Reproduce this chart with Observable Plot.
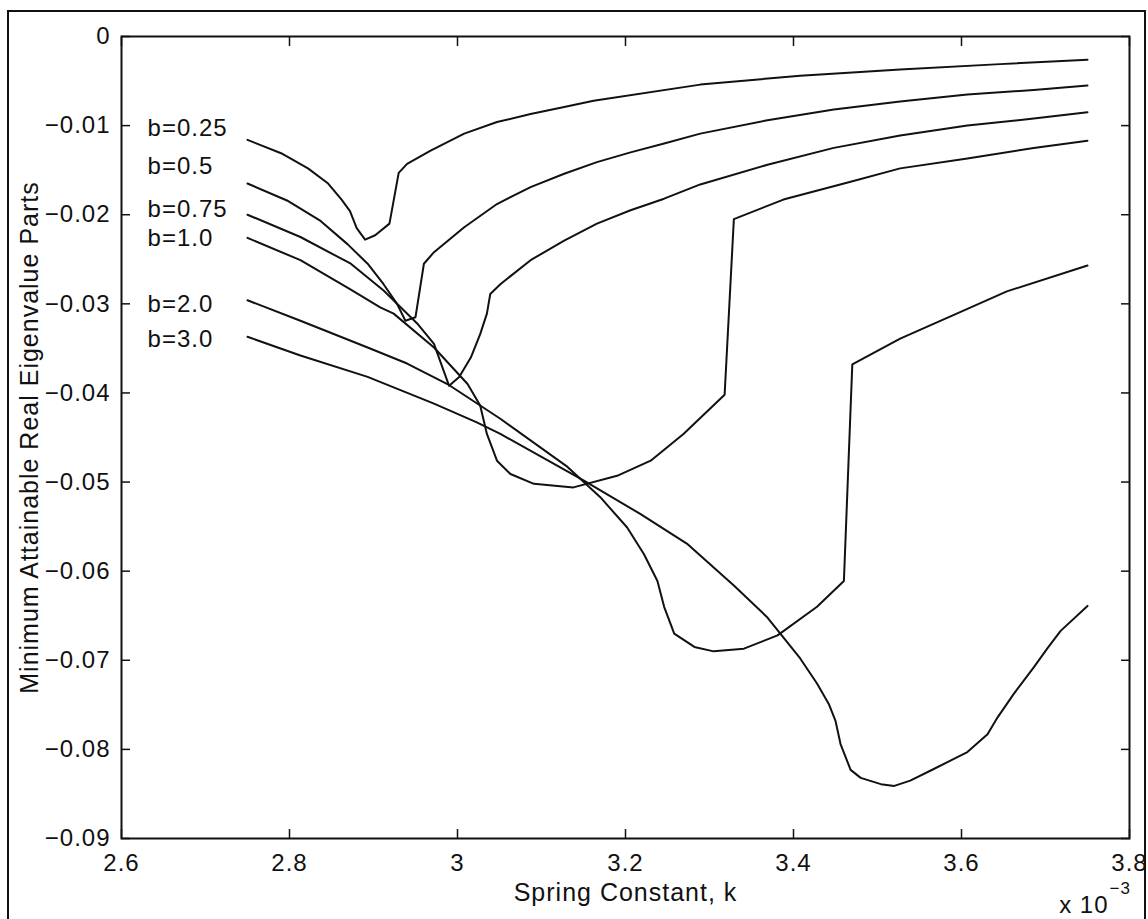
<!DOCTYPE html>
<html>
<head>
<meta charset="utf-8">
<script src="https://cdn.jsdelivr.net/npm/d3@7"></script>
<script src="https://cdn.jsdelivr.net/npm/@observablehq/plot@0.6"></script>
<style>
  html, body { margin: 0; padding: 0; background: #fff; }
  #wrap { position: relative; width: 1148px; height: 919px; overflow: hidden; background: #fff; }
  #chart { position: absolute; left: 0; top: 0; }
  #border { position: absolute; left: 7px; top: 10px; width: 1139px; height: 940px; border: 2px solid #111; box-sizing: border-box; pointer-events: none; }
</style>
</head>
<body>
<div id="wrap"><div id="chart"></div><div id="border"></div></div>
<script>
// ---- Data (k in units of 1e-3, v = minimum attainable real eigenvalue part) ----
const seriesNames = ["b=0.25", "b=0.5", "b=0.75", "b=1.0", "b=2.0", "b=3.0"];

const k_b025 = [2.750, 2.790, 2.822, 2.846, 2.862, 2.872, 2.880, 2.890, 2.902, 2.919, 2.930, 2.940, 2.968, 3.008, 3.047, 3.087, 3.127, 3.162, 3.289, 3.408, 3.527, 3.646, 3.750];
const v_b025 = [-0.0116, -0.0131, -0.0148, -0.0165, -0.0183, -0.0196, -0.0215, -0.0228, -0.0223, -0.0210, -0.0153, -0.0143, -0.0128, -0.0109, -0.0096, -0.0087, -0.0079, -0.0072, -0.0054, -0.0044, -0.0037, -0.0031, -0.0026];

const k_b05 = [2.750, 2.797, 2.837, 2.869, 2.893, 2.912, 2.928, 2.938, 2.950, 2.960, 2.972, 3.008, 3.047, 3.087, 3.127, 3.166, 3.206, 3.246, 3.289, 3.369, 3.448, 3.527, 3.607, 3.686, 3.750];
const v_b05 = [-0.0165, -0.0184, -0.0207, -0.0233, -0.0255, -0.0278, -0.0300, -0.0319, -0.0315, -0.0255, -0.0242, -0.0214, -0.0188, -0.0169, -0.0154, -0.0141, -0.0130, -0.0120, -0.0109, -0.0094, -0.0082, -0.0073, -0.0065, -0.0060, -0.0055];

const k_b075 = [2.750, 2.813, 2.873, 2.912, 2.952, 2.972, 2.990, 3.002, 3.016, 3.027, 3.035, 3.039, 3.051, 3.087, 3.127, 3.166, 3.206, 3.246, 3.289, 3.369, 3.448, 3.527, 3.607, 3.686, 3.750];
const v_b075 = [-0.0200, -0.0225, -0.0255, -0.0285, -0.0322, -0.0345, -0.0392, -0.0382, -0.0360, -0.0334, -0.0311, -0.0289, -0.0278, -0.0251, -0.0229, -0.0210, -0.0195, -0.0182, -0.0166, -0.0144, -0.0125, -0.0111, -0.0100, -0.0092, -0.0085];

const k_b10 = [2.750, 2.813, 2.873, 2.908, 2.924, 2.972, 3.012, 3.027, 3.035, 3.047, 3.063, 3.091, 3.138, 3.190, 3.230, 3.269, 3.318, 3.329, 3.388, 3.468, 3.527, 3.607, 3.686, 3.750];
const v_b10 = [-0.0226, -0.0251, -0.0284, -0.0304, -0.0311, -0.0349, -0.0390, -0.0414, -0.0446, -0.0476, -0.0491, -0.0502, -0.0506, -0.0493, -0.0476, -0.0446, -0.0402, -0.0205, -0.0183, -0.0163, -0.0148, -0.0137, -0.0125, -0.0117];

const k_b20 = [2.750, 2.813, 2.893, 2.940, 2.988, 3.051, 3.131, 3.170, 3.202, 3.222, 3.238, 3.246, 3.258, 3.282, 3.305, 3.341, 3.381, 3.428, 3.460, 3.470, 3.527, 3.599, 3.654, 3.750];
const v_b20 = [-0.0296, -0.0319, -0.0349, -0.0367, -0.0390, -0.0429, -0.0483, -0.0517, -0.0551, -0.0581, -0.0611, -0.0640, -0.0670, -0.0685, -0.0690, -0.0687, -0.0672, -0.0640, -0.0611, -0.0368, -0.0339, -0.0309, -0.0286, -0.0257];

const k_b30 = [2.750, 2.813, 2.893, 2.972, 3.023, 3.051, 3.150, 3.218, 3.273, 3.329, 3.369, 3.408, 3.428, 3.442, 3.450, 3.456, 3.468, 3.480, 3.504, 3.520, 3.539, 3.567, 3.607, 3.631, 3.643, 3.662, 3.686, 3.702, 3.718, 3.750];
const v_b30 = [-0.0337, -0.0358, -0.0382, -0.0412, -0.0433, -0.0446, -0.0498, -0.0536, -0.0569, -0.0616, -0.0652, -0.0698, -0.0726, -0.0749, -0.0768, -0.0794, -0.0823, -0.0832, -0.0839, -0.0841, -0.0835, -0.0822, -0.0803, -0.0783, -0.0764, -0.0738, -0.0708, -0.0687, -0.0667, -0.0639];

// Curve labels (text placed in data coordinates, as in the original figure)
const labelK = [2.631, 2.631, 2.631, 2.631, 2.631, 2.631];
const labelV = [-0.0103, -0.0146, -0.0194, -0.0227, -0.0300, -0.0340];

// Ticks
const xTicks = [2.6, 2.8, 3.0, 3.2, 3.4, 3.6, 3.8];
const yTicks = [0, -0.01, -0.02, -0.03, -0.04, -0.05, -0.06, -0.07, -0.08, -0.09];

// Text
const xTitle = "Spring Constant, k";
const yTitle = "Minimum Attainable Real Eigenvalue Parts";
const expBase = "x 10";
const expPow = "\u22123";

// ---- Build table ----
const kArrays = [k_b025, k_b05, k_b075, k_b10, k_b20, k_b30];
const vArrays = [v_b025, v_b05, v_b075, v_b10, v_b20, v_b30];
const rows = seriesNames.flatMap((name, s) => kArrays[s].map((k, i) => ({b: name, k, v: vArrays[s][i]})));
const labels = seriesNames.map((name, i) => ({name, k: labelK[i], v: labelV[i]}));

const fx = d => String(+d.toFixed(1));
const fy = d => d === 0 ? "0" : "\u2212" + Math.abs(d).toFixed(2);
const INK = "#111";

const chart = Plot.plot({
  width: 1148,
  height: 919,
  marginLeft: 121,
  marginRight: 19,
  marginTop: 36,
  marginBottom: 81,
  style: {
    fontFamily: "'Liberation Sans', Arial, Helvetica, sans-serif",
    fontSize: "24px",
    letterSpacing: "1px",
    color: INK,
    background: "transparent",
    overflow: "visible"
  },
  x: {domain: [2.6, 3.8]},
  y: {domain: [-0.09, 0]},
  marks: [
    Plot.axisX(xTicks, {anchor: "bottom", tickSize: -9, tickPadding: 24, tickFormat: fx, label: null, strokeWidth: 1.5, stroke: INK, fill: INK}),
    Plot.axisX(xTicks, {anchor: "top", tickSize: -9, tickFormat: () => "", label: null, strokeWidth: 1.5, stroke: INK}),
    Plot.axisY(yTicks, {anchor: "left", tickSize: -9, tickPadding: 20, tickFormat: fy, label: null, strokeWidth: 1.5, stroke: INK, fill: INK}),
    Plot.axisY(yTicks, {anchor: "right", tickSize: -9, tickFormat: () => "", label: null, strokeWidth: 1.5, stroke: INK}),
    Plot.frame({stroke: INK, strokeWidth: 2}),
    Plot.line(rows, {x: "k", y: "v", z: "b", stroke: INK, strokeWidth: 2, strokeLinejoin: "round"}),
    Plot.text(labels, {x: "k", y: "v", text: "name", textAnchor: "start", lineAnchor: "middle", fill: INK}),
    Plot.text([xTitle], {text: d => d, frameAnchor: "bottom", textAnchor: "middle", dy: 62, lineAnchor: "bottom", fontSize: 25, fill: INK}),
    Plot.text([yTitle], {text: d => d, frameAnchor: "left", textAnchor: "middle", rotate: -90, dx: -84, lineAnchor: "bottom", fontSize: 25, fill: INK}),
    Plot.text([expBase], {text: d => d, frameAnchor: "bottom-right", textAnchor: "end", dx: -21, dy: 74, lineAnchor: "bottom", fill: INK}),
    Plot.text([expPow], {text: d => d, frameAnchor: "bottom-right", textAnchor: "start", dx: -20, dy: 55, lineAnchor: "bottom", fontSize: 17, fill: INK})
  ]
});
document.getElementById("chart").appendChild(chart);
</script>
</body>
</html>
